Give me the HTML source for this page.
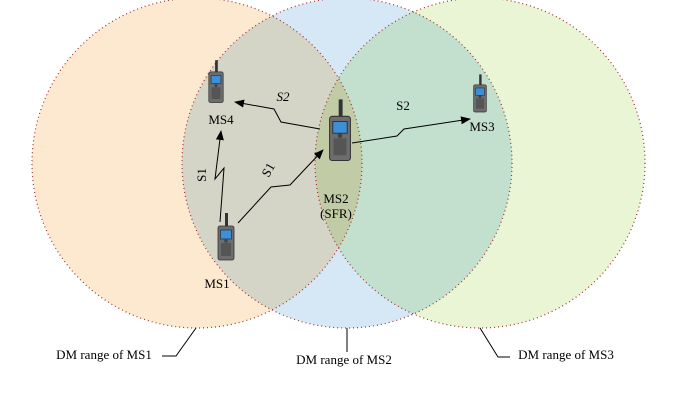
<!DOCTYPE html>
<html><head><style>body{margin:0;background:#fff}svg{display:block}</style></head><body>
<svg width="693" height="403" viewBox="0 0 693 403" xmlns="http://www.w3.org/2000/svg" font-family="Liberation Serif, serif" font-size="13">
<defs>
<marker id="a" markerWidth="10" markerHeight="8" refX="9" refY="4" orient="auto" markerUnits="userSpaceOnUse"><path d="M0,0 L10,4 L0,8 z" fill="#000"/></marker>
<g id="ph"><rect x="-1" y="-22" width="3" height="14" fill="#333"/><rect x="-8" y="-9" width="16" height="34" rx="2" fill="#6d6d6d" stroke="#333" stroke-width="0.8"/><rect x="-5.5" y="-5" width="11" height="9" fill="#3d8fd8" stroke="#222" stroke-width="0.6"/><rect x="-5" y="8" width="10" height="13" fill="#555"/><circle cx="0" cy="6" r="1.8" fill="#444"/></g>
</defs>
<g style="isolation:isolate">
<circle cx="197" cy="163" r="165" fill="#fde9cf"/>
<circle cx="347" cy="163" r="165" fill="#d6e8f6" style="mix-blend-mode:multiply"/>
<circle cx="480" cy="163" r="165" fill="#e9f5d5" style="mix-blend-mode:multiply"/>
</g>
<g fill="none" stroke="#a03030" stroke-width="1.2" stroke-dasharray="1 3">
<circle cx="197" cy="163" r="165"/><circle cx="347" cy="163" r="165"/><circle cx="480" cy="163" r="165"/>
</g>
<g stroke="#000" fill="none" stroke-width="1">
<polyline points="196,328 176,356 162,356"/>
<line x1="347" y1="328" x2="347" y2="352"/>
<polyline points="480,328 498,357 510,357"/>
</g>
<use href="#ph" transform="translate(216,80) scale(0.9)"/>
<use href="#ph" transform="translate(226,235) scale(1)"/>
<use href="#ph" transform="translate(340,128) scale(1.3)"/>
<use href="#ph" transform="translate(480,92) scale(0.8)"/>
<g stroke="#000" fill="none" stroke-width="1" marker-end="url(#a)">
<polyline points="320,129 281,122 274,109 235,102"/>
<polyline points="220,222 224,168 215,179 221,131"/>
<polyline points="238,223 271,187 290,185 323,150"/>
<polyline points="352,143 397,136 404,129 470,119"/>
</g>
<g fill="#000" text-anchor="middle">
<text x="221" y="124">MS4</text>
<text x="217" y="288">MS1</text>
<text x="336" y="203">MS2</text>
<text x="336" y="218">(SFR)</text>
<text x="482" y="131">MS3</text>
<text x="283" y="101" font-style="italic">S2</text>
<text x="403" y="110">S2</text>
<text transform="translate(206,175) rotate(-90)">S1</text>
<text transform="translate(272,172) rotate(-60)">S1</text>
<text x="104" y="359">DM range of MS1</text>
<text x="344" y="364">DM range of MS2</text>
<text x="566" y="359">DM range of MS3</text>
</g>
</svg>
</body></html>
